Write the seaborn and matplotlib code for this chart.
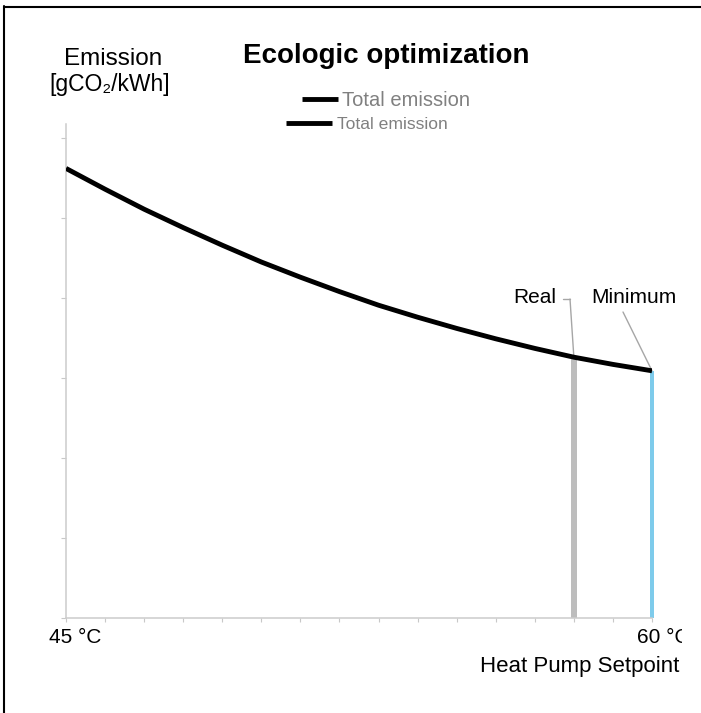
import matplotlib
matplotlib.use("Agg")
import matplotlib.pyplot as plt
import seaborn as sns
import numpy as np
from matplotlib.lines import Line2D
from matplotlib.transforms import Bbox

# ---- data ----
setpoints = [45, 46, 47, 48, 49, 50, 51, 52, 53, 54, 55, 56, 57, 58, 59, 60]
emission = [281, 268, 255.5, 244, 233, 222.5, 213, 204, 195.5, 188, 181, 174.5, 168.5, 163, 158.5, 154.5]
real_setpoint = 58
min_setpoint = 60
y_ticks = [0, 50, 100, 150, 200, 250, 300]
x_tick_labels = {45: "45 °C", 60: "60 °C"}
series_name = "Total emission"

W, H = 701, 713
sns.set_style("white")
plt.rcParams['font.family'] = ['Liberation Sans', 'DejaVu Sans']

fig = plt.figure(figsize=(W / 100, H / 100), dpi=100)
ax = fig.add_axes([66 / W, 1 - 618 / H, (652 - 66) / W, (618 - 124) / H])

def fx(px):
    return px / W

def fy(py):
    return 1 - py / H

# bars
e_real = emission[setpoints.index(real_setpoint)]
e_min = emission[setpoints.index(min_setpoint)]
ax.bar([real_setpoint], [e_real], width=0.17, color='#BDBDBD', zorder=1, linewidth=0)
ax.bar([min_setpoint], [e_min], width=0.1, color='#7ECBEB', zorder=1, linewidth=0, clip_on=False)

# curve
sns.lineplot(x=setpoints, y=emission, color='black', linewidth=3.5, ax=ax,
             label=series_name, zorder=3, legend=False)
line = ax.get_lines()[0]
line.set_solid_capstyle('butt')
line.set_solid_joinstyle('round')

ax.set_xlim(45, 60)
ax.set_ylim(0, 308.75)
ax.set_xticks(setpoints)
ax.set_xticklabels([])
ax.set_yticks(y_ticks)
ax.set_yticklabels([])
ax.set_xlabel("")
ax.set_ylabel("")
for s in ['top', 'right']:
    ax.spines[s].set_visible(False)
for s in ['left', 'bottom']:
    ax.spines[s].set_color('#CCCCCC')
    ax.spines[s].set_linewidth(1.1)
ax.tick_params(axis='x', direction='out', length=3, width=0.8, color='#C8C8C8', bottom=True)
ax.tick_params(axis='y', direction='out', length=3.6, width=0.8, color='#C8C8C8', left=True)
ax.patch.set_alpha(0)

# title and axis texts
fig.text(fx(386), fy(63), "Ecologic optimization", ha='center', va='baseline',
         fontsize=20, fontweight='bold', color='black')
fig.text(fx(113), fy(65), "Emission", ha='center', va='baseline', fontsize=17.5, color='black')
fig.text(fx(110), fy(91), "[gCO₂/kWh]", ha='center', va='baseline', fontsize=16.5, color='black')
fig.text(fx(679), fy(672), "Heat Pump Setpoint", ha='right', va='baseline', fontsize=16, color='black')
fig.text(fx(49), fy(643), x_tick_labels[45], ha='left', va='baseline', fontsize=15, color='black')
t60 = fig.text(fx(637), fy(643), x_tick_labels[60], ha='left', va='baseline', fontsize=15, color='black')
t60.set_clip_on(True)
t60.set_clip_box(Bbox.from_extents(0, 0, 682, H))

# annotations
gray = '#A6A6A6'
fig.text(fx(535), fy(303), "Real", ha='center', va='baseline', fontsize=15, color='black')
fig.text(fx(634), fy(303), "Minimum", ha='center', va='baseline', fontsize=15, color='black')
fig.add_artist(Line2D([fx(563), fx(570)], [fy(299), fy(299)], color=gray, lw=1,
                      transform=fig.transFigure))
ax.annotate('', xy=(real_setpoint, e_real), xytext=(570, H - 299), textcoords='figure pixels',
            arrowprops=dict(arrowstyle='-', color=gray, lw=1, shrinkA=0, shrinkB=0), zorder=2)
ax.annotate('', xy=(min_setpoint, e_min), xytext=(623, H - 312), textcoords='figure pixels',
            arrowprops=dict(arrowstyle='-', color=gray, lw=1, shrinkA=0, shrinkB=0),
            annotation_clip=False, zorder=2)

# legends (duplicated as in the reference)
leg1 = ax.legend([line], [series_name], loc='center left',
                 bbox_to_anchor=(fx(302), fy(101)), bbox_transform=fig.transFigure,
                 frameon=False, fontsize=14.5, handlelength=1.8, handletextpad=0.2,
                 borderpad=0, borderaxespad=0, labelcolor='#808080')
ax.add_artist(leg1)
leg2 = ax.legend([line], [series_name], loc='center left',
                 bbox_to_anchor=(fx(286), fy(124)), bbox_transform=fig.transFigure,
                 frameon=False, fontsize=12.6, handlelength=2.6, handletextpad=0.3,
                 borderpad=0, borderaxespad=0, labelcolor='#808080')

# outer frame (left & top edges visible)
fig.add_artist(Line2D([fx(4), fx(4)], [0, fy(6)], color='black', lw=1.5, transform=fig.transFigure))
fig.add_artist(Line2D([fx(4), 1], [fy(6.5), fy(6.5)], color='black', lw=1.5, transform=fig.transFigure))

fig.savefig("out.png", dpi=100)
